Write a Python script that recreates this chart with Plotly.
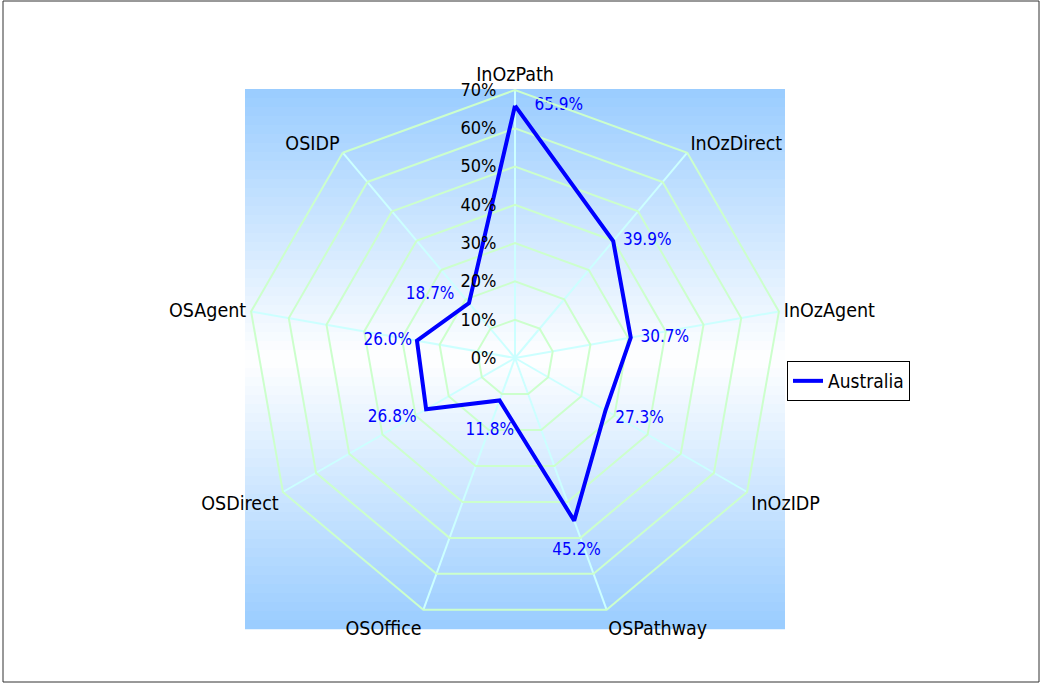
import plotly.graph_objects as go

categories = ["InOzPath", "InOzDirect", "InOzAgent", "InOzIDP", "OSPathway",
              "OSOffice", "OSDirect", "OSAgent", "OSIDP"]
australia = [65.9, 39.9, 30.7, 27.3, 45.2, 11.8, 26.8, 26.0, 18.7]
radial_ticks = [0, 10, 20, 30, 40, 50, 60, 70]
radial_ticktext = [f"{v}%" for v in radial_ticks]

NB = "\u00a0"
label_pos = ["middle right", "middle right", "middle right", "bottom right",
             "bottom center", "bottom center", "bottom left", "middle left", "top left"]
label_pre = [NB * 2, "", "", "", "<br>", "<br>", "", "", ""]
label_post = ["", "", "", "", "", NB * 5, NB, "", NB * 2]

FONT = "DejaVu Sans Condensed, Liberation Sans Narrow, sans-serif"
W, H = 1041, 684

fig = go.Figure()
fig.add_trace(go.Scatterpolar(
    r=australia + australia[:1],
    theta=categories + categories[:1],
    mode="lines+text",
    name="Australia",
    line=dict(color="#0000ff", width=4),
    text=[f"{p}{NB}{NB}{v:.1f}%{NB}{q}" for p, v, q in zip(label_pre, australia, label_post)] + [""],
    textposition=label_pos + ["middle right"],
    textfont=dict(color="#0000ff", size=17, family=FONT),
    cliponaxis=False,
    hoverinfo="skip",
))

# gradient background behind the polar area
cx, cy, R = 515, 359, 270
x0, x1 = (cx - R) / W, (cx + R) / W
ytop, ybot = 89, 629
n = 60
top_col = (153, 204, 255)
shapes = []
for i in range(n):
    ya = ytop + (ybot - ytop) * i / n
    yb = ytop + (ybot - ytop) * (i + 1) / n
    t = (i + 0.5) / n
    f = abs(t - 0.5) * 2  # 1 at edges, 0 in middle
    c = tuple(round(255 + (tc - 255) * f) for tc in top_col)
    shapes.append(dict(type="rect", xref="paper", yref="paper", layer="below",
                       x0=x0, x1=x1, y0=1 - yb / H - 0.0005, y1=1 - ya / H,
                       fillcolor=f"rgb{c}", line=dict(width=0)))
shapes.append(dict(type="rect", xref="paper", yref="paper", layer="above",
                   x0=3 / W, x1=1039 / W, y0=1 - 682 / H, y1=1 - 1 / H,
                   line=dict(color="#333333", width=1), fillcolor="rgba(0,0,0,0)"))

fig.update_layout(
    width=W, height=H,
    margin=dict(l=0, r=0, t=0, b=0),
    paper_bgcolor="white",
    font=dict(family=FONT, size=18, color="black"),
    shapes=shapes,
    showlegend=True,
    legend=dict(x=787 / W, y=1 - 361 / H, xanchor="left", yanchor="top",
                bordercolor="black", borderwidth=1, bgcolor="white",
                font=dict(size=19, family=FONT)),
    polar=dict(
        domain=dict(x=[(cx - 268) / W, (cx + 268) / W],
                    y=[1 - (358 + 268) / H, 1 - (358 - 268) / H]),
        bgcolor="rgba(0,0,0,0)",
        gridshape="linear",
        radialaxis=dict(range=[0, 70], tickvals=radial_ticks,
                        ticktext=[t + NB * 3 for t in radial_ticktext],
                        angle=90, side="counterclockwise", showline=False,
                        tickangle=90,
                        gridcolor="#ccffcc", gridwidth=2, ticks="",
                        tickfont=dict(size=18, family=FONT, color="black")),
        angularaxis=dict(direction="clockwise", rotation=90,
                         gridcolor="#ccffff", gridwidth=2, linecolor="#ccffcc",
                         linewidth=2, ticks="",
                         tickfont=dict(size=19.5, family=FONT, color="black")),
    ),
)

fig.write_html("out.html", config={"displayModeBar": False},
               post_script="document.body.style.margin='0';")
